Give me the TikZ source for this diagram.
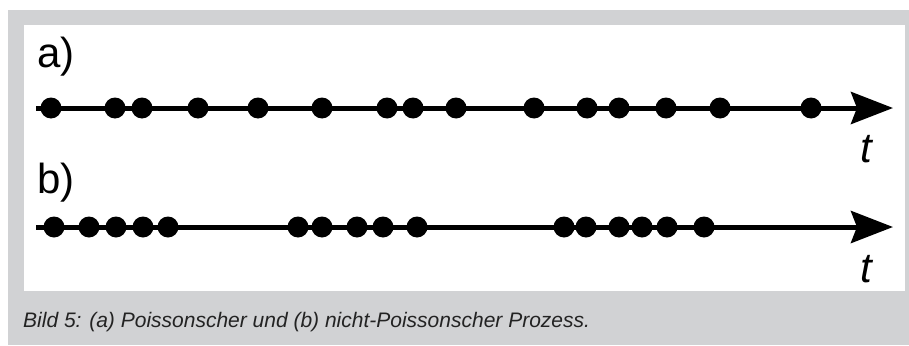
\documentclass[tikz,border=0pt]{standalone}
\usepackage{fontspec}
\setmainfont{Liberation Sans}
\usetikzlibrary{arrows.meta}
\definecolor{framegray}{RGB}{209,210,212}
\definecolor{captext}{RGB}{35,35,35}
\tikzset{
  dot/.style={circle, fill=black, minimum size=21pt, inner sep=0pt},
  axis/.style={line width=5pt, -{Stealth[length=42pt, width=32pt, inset=6pt]}},
  biglabel/.style={inner sep=0pt, font=\fontsize{42pt}{48pt}\selectfont},
  tlabel/.style={inner sep=0pt, font=\fontsize{42pt}{48pt}\selectfont\itshape},
  caption/.style={inner sep=0pt, text=captext, font=\fontsize{21pt}{25pt}\selectfont\itshape}
}
\begin{document}
\begin{tikzpicture}[x=1pt, y=-1pt]
\useasboundingbox (0,0) rectangle (909,345);
\fill[white] (0,0) rectangle (909,345);
\fill[framegray] (8,10) rectangle (909,345);
\fill[white] (24,25) rectangle (905,291);

% labels
\node[biglabel, anchor=base west] (la) at (37,67) {a)};
\node[biglabel, anchor=base west] (lb) at (37,193) {b)};

% axis a
\coordinate (sa) at (36,108);
\coordinate (ea) at (893,108);
\draw[axis] (sa) -- (ea);
\foreach \x [count=\i] in {51,115,142,198,258,322,387,413,456,534,587,619,666,720,811}
  \node[dot] (a\i) at (\x,108) {};
\node[tlabel, anchor=base] (ta) at (866,162) {t};

% axis b
\coordinate (sb) at (36,227);
\coordinate (eb) at (893,227);
\draw[axis] (sb) -- (eb);
\foreach \x [count=\i] in {54,89,116,143,168,298,322,357,383,417,564,586,619,642,667,704}
  \node[dot] (b\i) at (\x,227) {};
\node[tlabel, anchor=base] (tb) at (866,282) {t};

% caption
\node[caption, anchor=base west] (cap) at (23,327) {Bild 5: (a) Poissonscher und (b) nicht-Poissonscher Prozess.};
\end{tikzpicture}
\end{document}
